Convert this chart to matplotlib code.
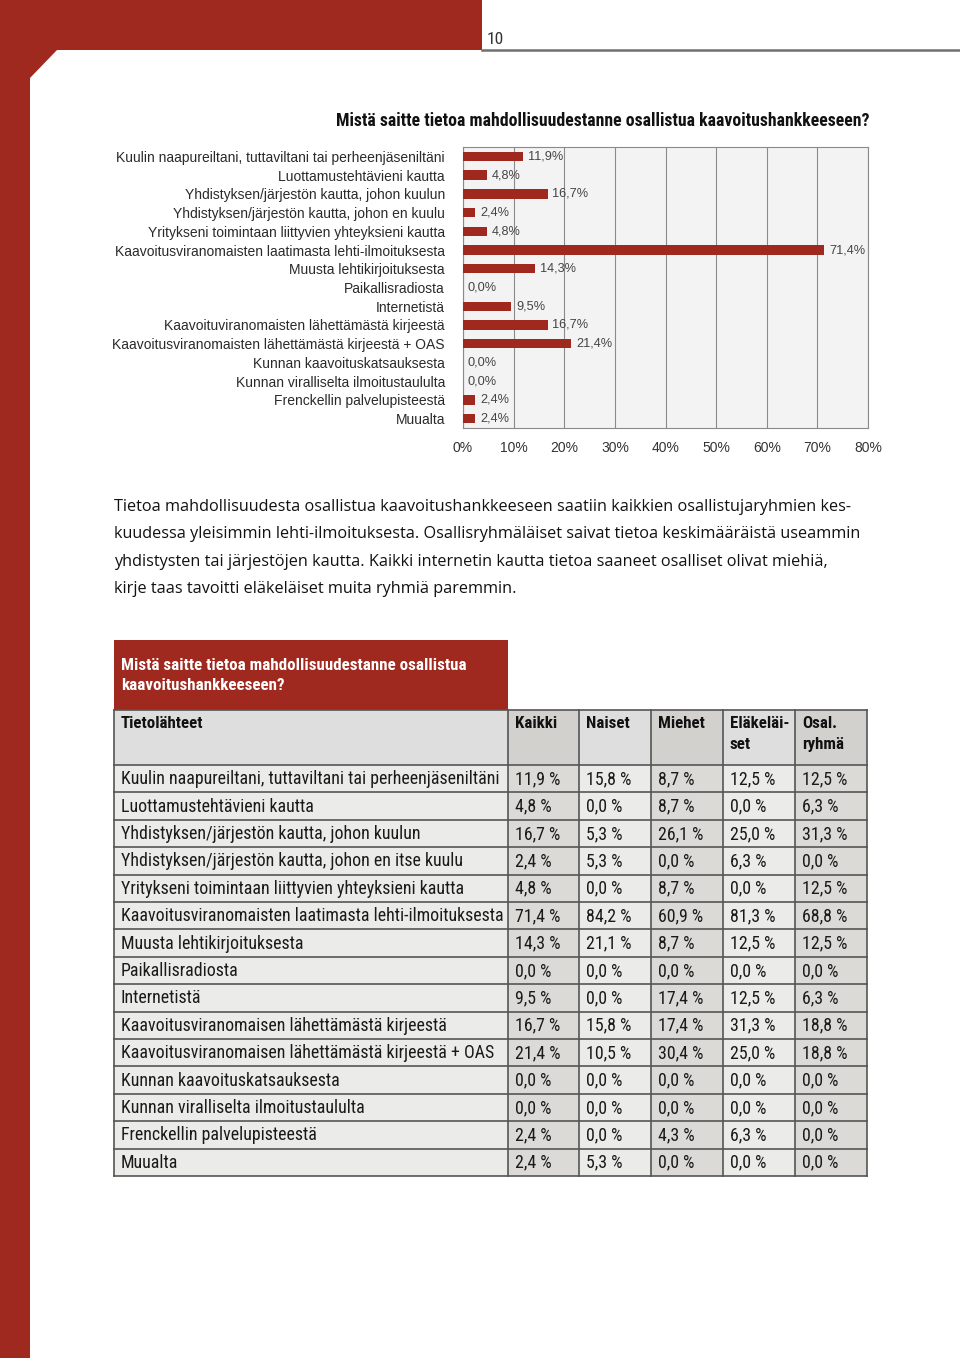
import matplotlib.pyplot as plt
from matplotlib import font_manager as fm
from matplotlib.font_manager import FontProperties
from matplotlib.patches import Polygon, Rectangle

# ---------------------------------------------------------------------------
# data
# ---------------------------------------------------------------------------
chart_labels = [
    "Kuulin naapureiltani, tuttaviltani tai perheenjäseniltäni",
    "Luottamustehtävieni kautta",
    "Yhdistyksen/järjestön kautta, johon kuulun",
    "Yhdistyksen/järjestön kautta, johon en kuulu",
    "Yritykseni toimintaan liittyvien yhteyksieni kautta",
    "Kaavoitusviranomaisten laatimasta lehti-ilmoituksesta",
    "Muusta lehtikirjoituksesta",
    "Paikallisradiosta",
    "Internetistä",
    "Kaavoituviranomaisten lähettämästä kirjeestä",
    "Kaavoitusviranomaisten lähettämästä kirjeestä + OAS",
    "Kunnan kaavoituskatsauksesta",
    "Kunnan viralliselta ilmoitustaululta",
    "Frenckellin palvelupisteestä",
    "Muualta",
]
table_labels = [
    "Kuulin naapureiltani, tuttaviltani tai perheenjäseniltäni",
    "Luottamustehtävieni kautta",
    "Yhdistyksen/järjestön kautta, johon kuulun",
    "Yhdistyksen/järjestön kautta, johon en itse kuulu",
    "Yritykseni toimintaan liittyvien yhteyksieni kautta",
    "Kaavoitusviranomaisten laatimasta lehti-ilmoituksesta",
    "Muusta lehtikirjoituksesta",
    "Paikallisradiosta",
    "Internetistä",
    "Kaavoitusviranomaisen lähettämästä kirjeestä",
    "Kaavoitusviranomaisen lähettämästä kirjeestä + OAS",
    "Kunnan kaavoituskatsauksesta",
    "Kunnan viralliselta ilmoitustaululta",
    "Frenckellin palvelupisteestä",
    "Muualta",
]
kaikki = [11.9, 4.8, 16.7, 2.4, 4.8, 71.4, 14.3, 0.0, 9.5, 16.7, 21.4, 0.0, 0.0, 2.4, 2.4]
naiset = [15.8, 0.0, 5.3, 5.3, 0.0, 84.2, 21.1, 0.0, 0.0, 15.8, 10.5, 0.0, 0.0, 0.0, 5.3]
miehet = [8.7, 8.7, 26.1, 0.0, 8.7, 60.9, 8.7, 0.0, 17.4, 17.4, 30.4, 0.0, 0.0, 4.3, 0.0]
elakelaiset = [12.5, 0.0, 25.0, 6.3, 0.0, 81.3, 12.5, 0.0, 12.5, 31.3, 25.0, 0.0, 0.0, 6.3, 0.0]
osalryhma = [12.5, 6.3, 31.3, 0.0, 12.5, 68.8, 12.5, 0.0, 6.3, 18.8, 18.8, 0.0, 0.0, 0.0, 0.0]
col_headers = ["Tietolähteet", "Kaikki", "Naiset", "Miehet", "Eläkeläi-\nset", "Osal.\nryhmä"]
x_ticks = [0, 10, 20, 30, 40, 50, 60, 70, 80]

title = "Mistä saitte tietoa mahdollisuudestanne osallistua kaavoitushankkeeseen?"
box_title = ["Mistä saitte tietoa mahdollisuudestanne osallistua", "kaavoitushankkeeseen?"]
paragraph = [
    "Tietoa mahdollisuudesta osallistua kaavoitushankkeeseen saatiin kaikkien osallistujaryhmien kes-",
    "kuudessa yleisimmin lehti-ilmoituksesta. Osallisryhmäläiset saivat tietoa keskimääräistä useammin",
    "yhdistysten tai järjestöjen kautta. Kaikki internetin kautta tietoa saaneet osalliset olivat miehiä,",
    "kirje taas tavoitti eläkeläiset muita ryhmiä paremmin.",
]

RED = "#a0291f"
W, H = 960, 1358


# ---------------------------------------------------------------------------
# fonts: look for a condensed sans, otherwise fall back to Roboto
# ---------------------------------------------------------------------------
def condensed_font(bold):
    prefs = ["liberationsansnarrow", "robotocondensed", "opensanscondensed",
             "notosanscondensed", "dejavusanscondensed", "condensed", "narrow"]
    found = []
    for f in fm.fontManager.ttflist:
        fn = f.fname.lower().replace("-", "").replace("_", "")
        if "condensed" not in fn and "narrow" not in fn:
            continue
        if any(k in fn for k in ("italic", "oblique", "mono", "light", "thin", "black", "medium", "semibold", "extrabold")):
            continue
        if "serif" in fn and "sans" not in fn:
            continue
        if bold != ("bold" in fn):
            continue
        rank = next(i for i, p in enumerate(prefs) if p in fn)
        found.append((rank, f.fname))
    if found:
        return FontProperties(fname=sorted(found)[0][1])
    return FontProperties(family=["Roboto", "DejaVu Sans"], weight="bold" if bold else "normal")


COND = condensed_font(False)
COND_B = condensed_font(True)
SANS = FontProperties(family=["Liberation Sans", "DejaVu Sans"])
BODY = FontProperties(family=["Open Sans", "DejaVu Sans"])

fig = plt.figure(figsize=(W / 100, H / 100), dpi=100)
renderer = fig.canvas.get_renderer()


def fitted(fp, text, target_px):
    p = fp.copy()
    p.set_size(10)
    w = renderer.get_text_width_height_descent(text, p, ismath=False)[0]
    p.set_size(10 * target_px / w)
    return p


# page layer in pixel coordinates
bg = fig.add_axes([0, 0, 1, 1])
bg.set_xlim(0, W)
bg.set_ylim(H, 0)
bg.axis("off")

bg.add_patch(Polygon([(0, 0), (482, 0), (482, 50), (57, 50), (30, 78), (30, H), (0, H)],
                     closed=True, color=RED, lw=0))
bg.plot([482, W], [49.5, 49.5], color="#707070", lw=1.8)
bg.text(487, 40, "10", fontproperties=fitted(COND, "10", 17), color="#333333",
        va="center", ha="left")

bg.text(870, 121, title, fontproperties=fitted(COND_B, title, 532),
        ha="right", va="center", color="#111111")

# ---------------------------------------------------------------------------
# bar chart
# ---------------------------------------------------------------------------
ax = fig.add_axes([463 / W, 1 - 428 / H, (868 - 463) / W, (428 - 147) / H])
ax.set_facecolor("#f3f3f3")
ypos = list(range(len(kaikki)))
ax.barh(ypos, kaikki, height=0.5, color=RED, zorder=3)
val_fp = fitted(SANS, "71,4%", 36)
for y, v in zip(ypos, kaikki):
    ax.annotate(f"{v:.1f}%".replace(".", ","), (v, y), xytext=(3.5, 0),
                textcoords="offset points", va="center", ha="left",
                fontproperties=val_fp, color="#444444", zorder=4)
ax.set_xlim(0, 80)
ax.set_ylim(len(kaikki) - 0.5, -0.5)
ax.set_xticks(x_ticks)
ax.set_xticklabels([f"{t}%" for t in x_ticks], color="#333333",
                   fontproperties=fitted(SANS, "80%", 28))
ax.set_yticks(ypos)
ax.set_yticklabels(chart_labels, color="#2a2a2a",
                   fontproperties=fitted(SANS, chart_labels[0], 328))
ax.tick_params(axis="x", length=0, pad=9)
ax.tick_params(axis="y", length=0, pad=13)
ax.grid(axis="x", color="#8a8a8a", lw=0.8, zorder=1)
for s in ax.spines.values():
    s.set_color("#8a8a8a")
    s.set_linewidth(0.8)

# ---------------------------------------------------------------------------
# paragraph
# ---------------------------------------------------------------------------
body_fp = fitted(BODY, paragraph[1], 746)
for i, line in enumerate(paragraph):
    bg.text(114, 507 + i * 27.3, line, fontproperties=body_fp, color="#111111",
            ha="left", va="center")

# ---------------------------------------------------------------------------
# table
# ---------------------------------------------------------------------------
bg.add_patch(Rectangle((114, 640), 394, 70, color=RED, lw=0))
box_fp = fitted(COND_B, box_title[0], 343)
bg.text(121, 666, box_title[0], fontproperties=box_fp, color="white", va="center")
bg.text(121, 686, box_title[1], fontproperties=box_fp, color="white", va="center")

col_x = [114, 508, 579, 651, 723, 795, 867]
head_top, head_bot = 710, 765
row_h = (1176 - 765) / len(table_labels)
light = ["#ebebea", "#dcdad6", "#ebebea", "#dcdad6", "#ebebea", "#dcdad6"]
head_fill = ["#dedede", "#d3d1cd", "#dedede", "#d3d1cd", "#dedede", "#d3d1cd"]

columns = [table_labels,
           [f"{v:.1f} %".replace(".", ",") for v in kaikki],
           [f"{v:.1f} %".replace(".", ",") for v in naiset],
           [f"{v:.1f} %".replace(".", ",") for v in miehet],
           [f"{v:.1f} %".replace(".", ",") for v in elakelaiset],
           [f"{v:.1f} %".replace(".", ",") for v in osalryhma]]

head_fp = fitted(COND_B, "Tietolähteet", 82)
cell_fp = fitted(COND, table_labels[0], 377)

for c in range(6):
    x0, x1 = col_x[c], col_x[c + 1]
    bg.add_patch(Rectangle((x0, head_top), x1 - x0, head_bot - head_top,
                           facecolor=head_fill[c], lw=0))
    bg.text(x0 + 7, head_top + 6, col_headers[c], fontproperties=head_fp,
            color="#111111", va="top", ha="left", linespacing=1.5)
    for r, val in enumerate(columns[c]):
        y0 = head_bot + r * row_h
        bg.add_patch(Rectangle((x0, y0), x1 - x0, row_h, facecolor=light[c], lw=0))
        bg.text(x0 + 7, y0 + row_h / 2 + 0.5, val, fontproperties=cell_fp,
                color="#1a1a1a", va="center", ha="left")

# grid lines of the table
table_bot = head_bot + len(table_labels) * row_h
for x in col_x:
    bg.plot([x, x], [head_top, table_bot], color="#555555", lw=1.2)
bg.plot([col_x[0], col_x[-1]], [head_top, head_top], color="#555555", lw=1.2)
for r in range(len(table_labels) + 1):
    y = head_bot + r * row_h
    bg.plot([col_x[0], col_x[-1]], [y, y], color="#555555", lw=1.2)

fig.savefig("out.png", dpi=100)
